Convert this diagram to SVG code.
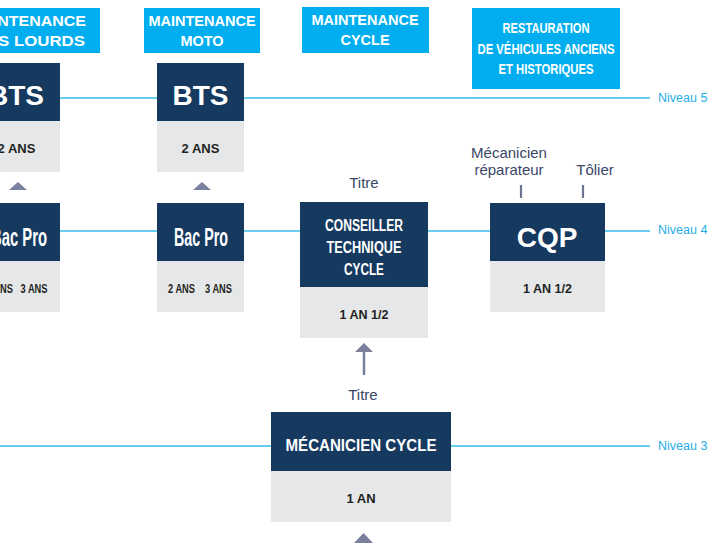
<svg xmlns="http://www.w3.org/2000/svg" width="709" height="543" viewBox="0 0 709 543">
<style>
.hdr{fill:#00AEEF}
.top{fill:#15395F}
.bot{fill:#E6E7E9}
.ht{font-family:"Liberation Sans",Arial,sans-serif;font-weight:bold;font-size:14.5px;fill:#fff;text-anchor:middle}
.tt{font-family:"Liberation Sans",Arial,sans-serif;font-weight:bold;fill:#fff;text-anchor:middle}
.dt{font-family:"Liberation Sans",Arial,sans-serif;font-weight:bold;font-size:13px;fill:#231F20;text-anchor:middle}
.lbl{font-family:"Liberation Sans",Arial,sans-serif;font-size:15px;fill:#3A4668;text-anchor:middle}
.niv{font-family:"Liberation Sans",Arial,sans-serif;font-size:12.5px;fill:#1FAEE6}
.lvl{stroke:#36BAEA;stroke-width:1.3;fill:none}
.tri{fill:#7B809E}
.tick{stroke:#6F7491;stroke-width:2.2}
</style>
<rect width="709" height="543" fill="#fff"/>
<g id="connectors">
  <line class="lvl" x1="0" y1="98" x2="650" y2="98"/>
  <line class="lvl" x1="0" y1="231" x2="650" y2="231"/>
  <line class="lvl" x1="0" y1="446" x2="650" y2="446"/>
  <polygon class="tri" points="9,190 18,182 27,190"/>
  <polygon class="tri" points="193,190 202,182 211,190"/>
  <polygon class="tri" points="355,352 364,343 373,352"/>
  <line x1="364" y1="351" x2="364" y2="375" stroke="#7B809E" stroke-width="2.5"/>
  <polygon class="tri" points="354,543 363.5,533 373,543"/>
  <line class="tick" x1="521" y1="185" x2="521" y2="198"/>
  <line class="tick" x1="583" y1="185" x2="583" y2="198"/>
</g>
<g id="levels">
  <text class="niv" x="658" y="102">Niveau 5</text>
  <text class="niv" x="658" y="234">Niveau 4</text>
  <text class="niv" x="658" y="450">Niveau 3</text>
</g>
<g id="hdr-lourds">
  <rect class="hdr" x="-60" y="8" width="160" height="45"/>
  <text class="ht" x="86" y="26" style="text-anchor:end" textLength="118" lengthAdjust="spacingAndGlyphs">MAINTENANCE</text>
  <text class="ht" x="85" y="46" style="text-anchor:end" textLength="172" lengthAdjust="spacingAndGlyphs">VÉHICULES LOURDS</text>
</g>
<g id="hdr-moto">
  <rect class="hdr" x="144" y="8" width="116" height="45"/>
  <text class="ht" x="202" y="26">MAINTENANCE</text>
  <text class="ht" x="202" y="46">MOTO</text>
</g>
<g id="hdr-cycle">
  <rect class="hdr" x="302" y="7" width="127" height="46"/>
  <text class="ht" x="365" y="25">MAINTENANCE</text>
  <text class="ht" x="365" y="45">CYCLE</text>
</g>
<g id="hdr-restauration">
  <rect class="hdr" x="472" y="8" width="148" height="81"/>
  <text class="tt" x="546" y="33" font-size="14" textLength="87" lengthAdjust="spacingAndGlyphs">RESTAURATION</text>
  <text class="tt" x="546" y="54" font-size="14" textLength="137" lengthAdjust="spacingAndGlyphs">DE VÉHICULES ANCIENS</text>
  <text class="tt" x="546" y="74" font-size="14" textLength="95" lengthAdjust="spacingAndGlyphs">ET HISTORIQUES</text>
</g>
<g id="bts-lourds">
  <rect class="top" x="-27" y="63" width="87" height="58"/>
  <rect class="bot" x="-27" y="121" width="87" height="51"/>
  <text class="tt" x="16" y="105" font-size="28">BTS</text>
  <text class="dt" x="16.5" y="153">2 ANS</text>
</g>
<g id="bts-moto">
  <rect class="top" x="157" y="63" width="87" height="58"/>
  <rect class="bot" x="157" y="121" width="87" height="51"/>
  <text class="tt" x="200.5" y="105" font-size="28">BTS</text>
  <text class="dt" x="200.5" y="153">2 ANS</text>
</g>
<g id="bacpro-lourds">
  <rect class="top" x="-27" y="203" width="87" height="58"/>
  <rect class="bot" x="-27" y="261" width="87" height="51"/>
  <text class="tt" x="19" y="246" font-size="25" textLength="56" lengthAdjust="spacingAndGlyphs">Bac Pro</text>
  <text class="dt" x="-0.5" y="293" textLength="27" lengthAdjust="spacingAndGlyphs">2 ANS</text>
  <text class="dt" x="34" y="293" textLength="27" lengthAdjust="spacingAndGlyphs">3 ANS</text>
</g>
<g id="bacpro-moto">
  <rect class="top" x="157" y="203" width="87" height="58"/>
  <rect class="bot" x="157" y="261" width="87" height="51"/>
  <text class="tt" x="201" y="246" font-size="25" textLength="54" lengthAdjust="spacingAndGlyphs">Bac Pro</text>
  <text class="dt" x="181.5" y="293" textLength="27" lengthAdjust="spacingAndGlyphs">2 ANS</text>
  <text class="dt" x="218.5" y="293" textLength="27" lengthAdjust="spacingAndGlyphs">3 ANS</text>
</g>
<g id="conseiller">
  <text class="lbl" x="364" y="188">Titre</text>
  <rect class="top" x="300" y="202" width="128" height="85"/>
  <rect class="bot" x="300" y="287" width="128" height="51"/>
  <text class="tt" x="364" y="231" font-size="16" textLength="78" lengthAdjust="spacingAndGlyphs">CONSEILLER</text>
  <text class="tt" x="364" y="253" font-size="16" textLength="75" lengthAdjust="spacingAndGlyphs">TECHNIQUE</text>
  <text class="tt" x="364" y="275" font-size="16" textLength="40" lengthAdjust="spacingAndGlyphs">CYCLE</text>
  <text class="dt" x="364" y="319" textLength="49" lengthAdjust="spacingAndGlyphs">1 AN 1/2</text>
</g>
<g id="cqp">
  <text class="lbl" x="509" y="158">Mécanicien</text>
  <text class="lbl" x="509" y="175">réparateur</text>
  <text class="lbl" x="595" y="175">Tôlier</text>
  <rect class="top" x="490" y="203" width="115" height="58"/>
  <rect class="bot" x="490" y="261" width="115" height="51"/>
  <text class="tt" x="547" y="247" font-size="28">CQP</text>
  <text class="dt" x="547.5" y="293" textLength="49" lengthAdjust="spacingAndGlyphs">1 AN 1/2</text>
</g>
<g id="mecanicien-cycle">
  <text class="lbl" x="363" y="400">Titre</text>
  <rect class="top" x="271" y="412" width="180" height="59"/>
  <rect class="bot" x="271" y="471" width="180" height="51"/>
  <text class="tt" x="361" y="451" font-size="16" textLength="151" lengthAdjust="spacingAndGlyphs">MÉCANICIEN CYCLE</text>
  <text class="dt" x="361" y="503">1 AN</text>
</g>
</svg>
